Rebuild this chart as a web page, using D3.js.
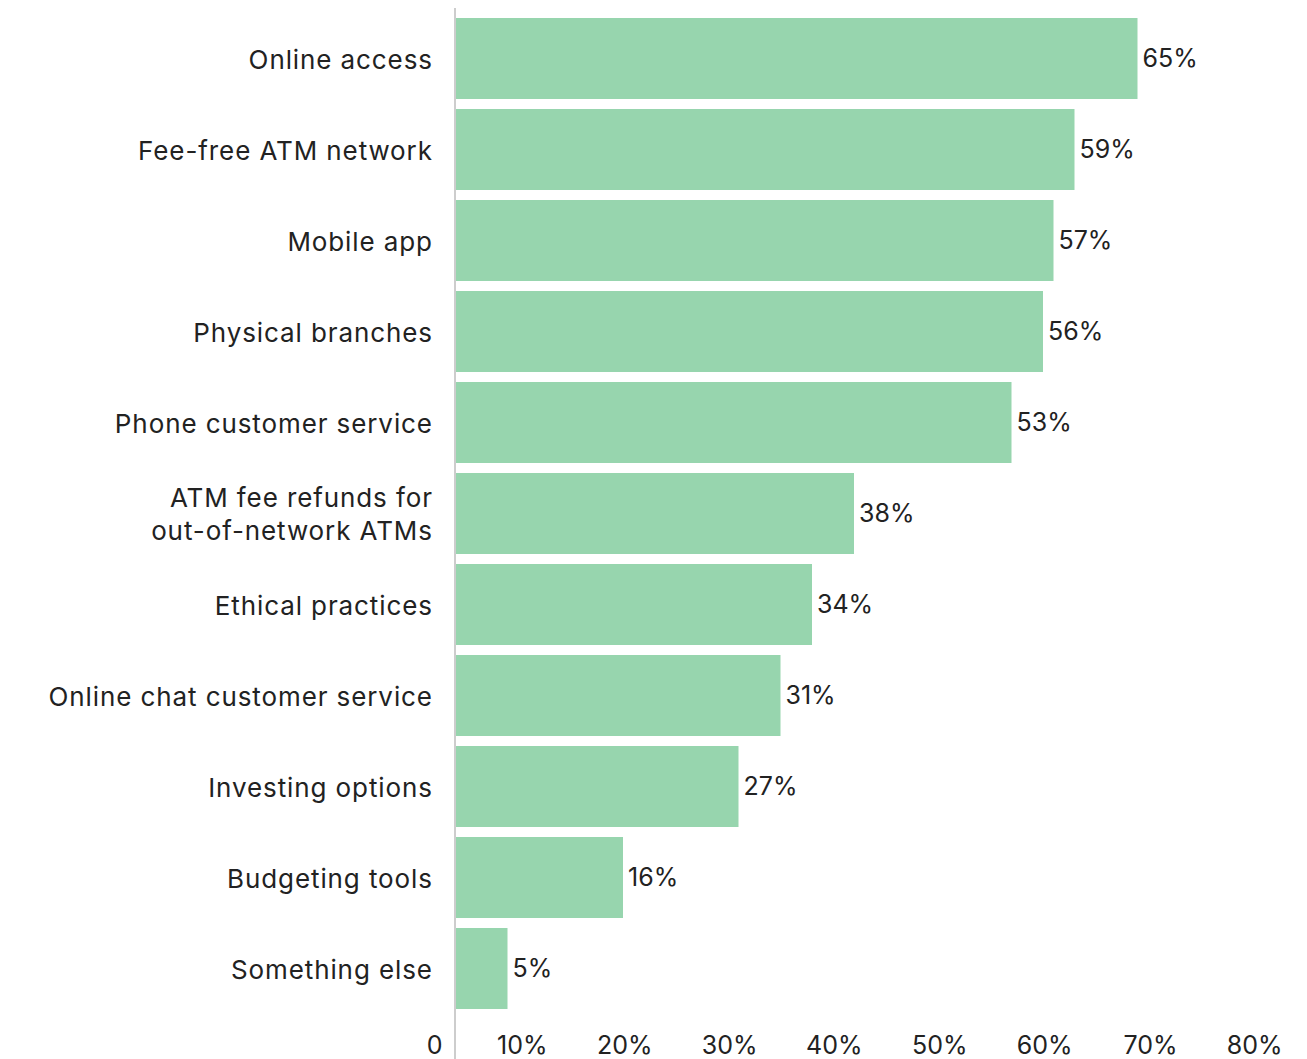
<!DOCTYPE html>
<html>
<head>
<meta charset="utf-8">
<script src="https://cdn.jsdelivr.net/npm/d3@7"></script>
<style>
  html, body { margin: 0; padding: 0; background: #fff; }
  svg { display: block; }
  text { font-family: "Inter", "Lato", sans-serif; fill: #222; }
</style>
</head>
<body>
<svg id="chart" width="1307" height="1059"></svg>
<script>
// Share of respondents naming each banking feature
const categories = [
  ["Online access"],
  ["Fee-free ATM network"],
  ["Mobile app"],
  ["Physical branches"],
  ["Phone customer service"],
  ["ATM fee refunds for", "out-of-network ATMs"],
  ["Ethical practices"],
  ["Online chat customer service"],
  ["Investing options"],
  ["Budgeting tools"],
  ["Something else"]
];
const values = [65, 59, 57, 56, 53, 38, 34, 31, 27, 16, 5];
const tickValues = [0, 10, 20, 30, 40, 50, 60, 70, 80];
const tickLabels = ["0", "10%", "20%", "30%", "40%", "50%", "60%", "70%", "80%"];

const svg = d3.select("#chart");
const labelSize = 26;
const numSize = 25;
const labelSpacing = 0.9;   // slight tracking for category labels

const x = d3.scaleLinear().domain([0, 80]).range([455, 1295]);
const y = d3.scaleBand()
  .domain(d3.range(categories.length))
  .range([13, 1014])
  .paddingInner(0.11)
  .paddingOuter(0.055);

// bars
svg.append("g").selectAll("rect")
  .data(values)
  .join("rect")
  .attr("x", x(0) + 1)
  .attr("y", (d, i) => y(i))
  .attr("width", d => x(d) - x(0) - 1)
  .attr("height", y.bandwidth())
  .attr("fill", "#97d5ae");

// vertical axis line
svg.append("line")
  .attr("x1", x(0)).attr("x2", x(0))
  .attr("y1", 8).attr("y2", 1059)
  .attr("stroke", "#bdbdbd")
  .attr("stroke-width", 1.5);

// category labels (right edge compensates for trailing letter-spacing)
const labelX = 432 + labelSpacing;
const lineGap = 33;
const cat = svg.append("g").selectAll("text")
  .data(categories)
  .join("text")
  .attr("text-anchor", "end")
  .attr("font-size", labelSize)
  .attr("letter-spacing", labelSpacing)
  .attr("x", labelX)
  .attr("y", (d, i) => y(i) + y.bandwidth() / 2 - (d.length - 1) * lineGap / 2)
  .attr("dominant-baseline", "central");
cat.selectAll("tspan")
  .data(d => d)
  .join("tspan")
  .attr("x", labelX)
  .attr("dy", (d, j) => j === 0 ? 0 : lineGap)
  .text(d => d);

// value labels
svg.append("g").selectAll("text")
  .data(values)
  .join("text")
  .attr("font-size", numSize)
  .attr("x", d => x(d) + 5)
  .attr("y", (d, i) => y(i) + y.bandwidth() / 2)
  .attr("dy", "-0.02em")
  .attr("dominant-baseline", "central")
  .text(d => d + "%");

// bottom tick labels, right-aligned just left of each tick position
const axis = d3.axisBottom(x)
  .tickValues(tickValues)
  .tickFormat((d, i) => tickLabels[i])
  .tickSize(0)
  .tickPadding(0);
const gAxis = svg.append("g")
  .attr("transform", "translate(0,1045)")
  .call(axis);
gAxis.select(".domain").remove();
gAxis.selectAll("text")
  .attr("font-size", numSize)
  .attr("font-family", "Inter, Lato, sans-serif")
  .attr("fill", "#222")
  .attr("text-anchor", "end")
  .attr("dx", -13)
  .attr("y", 0)
  .attr("dy", 0)
  .attr("dominant-baseline", "central");
</script>
</body>
</html>
